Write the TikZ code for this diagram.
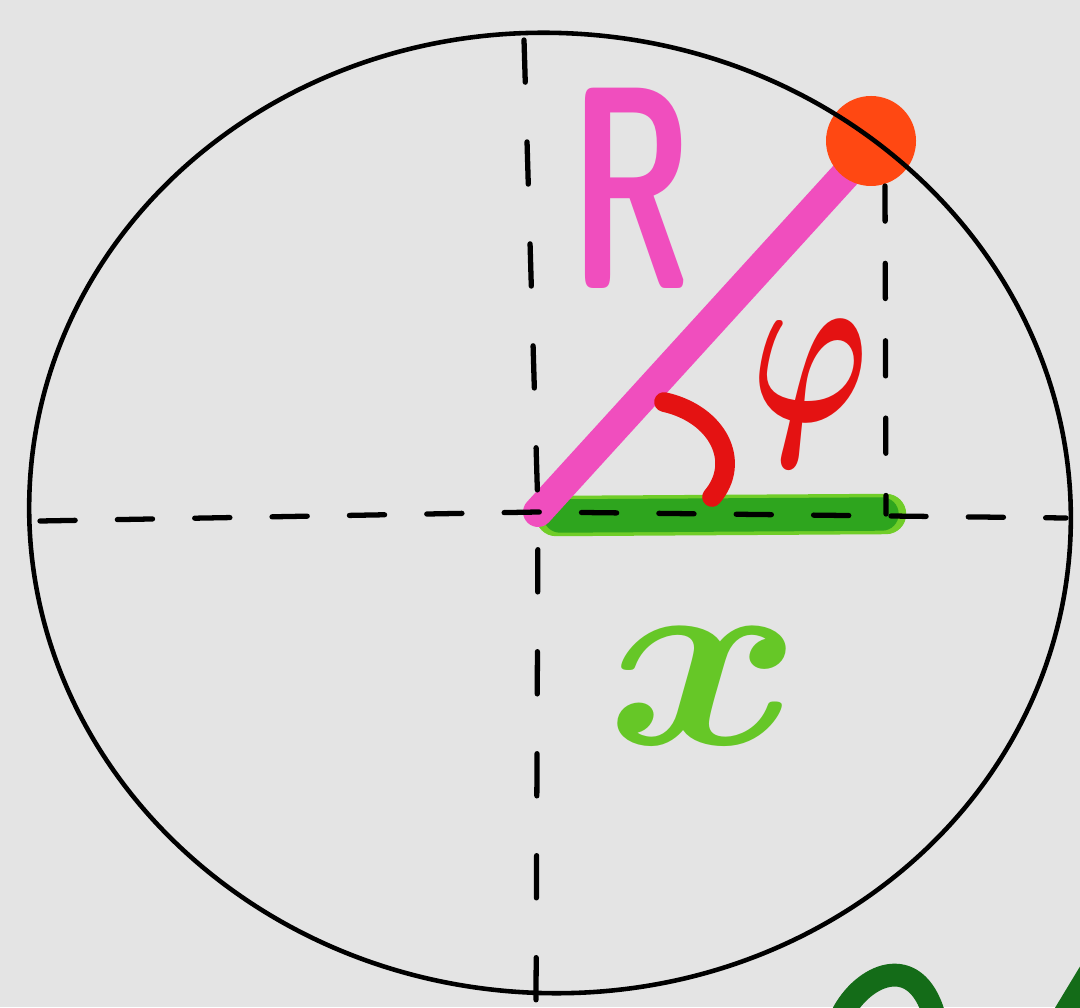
\documentclass[tikz,border=0pt]{standalone}
\usepackage{xcolor}
\usepackage{tikz}
\usetikzlibrary{positioning,calc}
\definecolor{boardgray}{RGB}{228,228,228}
\definecolor{radiuspink}{RGB}{240,78,190}
\definecolor{pointorange}{RGB}{255,72,18}
\definecolor{xgreen}{RGB}{46,165,30}
\definecolor{xlightgreen}{RGB}{112,205,40}
\definecolor{anglered}{RGB}{228,18,18}
\definecolor{inkgreen}{RGB}{20,108,24}

\begin{document}
\begin{tikzpicture}[
    x=0.01cm, y=-0.01cm,
    outline/.style={line width=1.3pt, black},
    axis/.style={line width=1.5pt, black, line cap=round,
                 dash pattern=on 10pt off 12pt},
    axisv/.style={line width=1.5pt, black, line cap=round,
                  dash pattern=on 12pt off 17pt},
    marker/.style={line cap=round, line join=round},
    handlabel/.style={inner sep=0pt, transform shape},
]

% Background and frame
\fill[boardgray] (0,0) rectangle (1080,1007);
\useasboundingbox (0,0) rectangle (1080,1007);

% Points
\coordinate (O) at (538,512);
\coordinate (P) at (871,141);
\coordinate (F) at (886,514);
\coordinate (C) at (550,513);

% Projection x
\draw[marker, xlightgreen, line width=11.5pt] (556,516) -- (F);
\draw[marker, xgreen, line width=9.5pt] (560,516) -- ($(F)+(-4,0)$);

% Radius R
\draw[marker, radiuspink, line width=8.5pt] (O) -- ($(P)+(-4,10)$);

% Angle phi
\draw[marker, anglered, line width=5.6pt]
    (664,402) .. controls (718,414) and (742,462) .. (712,497);

% Point on the circle
\fill[pointorange] (P) circle (45);

% Axes
\draw[axis] (40,521) -- (O) -- (1066,518);
\draw[axisv] (524,40) -- (O) -- (536,1000);
\draw[axis] (885,186) -- (F);

% Circle
\draw[outline, rotate around={-4:(C)}] (C) ellipse [x radius=521, y radius=480];

% Labels
\node[handlabel, font=\Huge\sffamily\bfseries, text=radiuspink,
      xscale=2.0, yscale=3.3] (rlabel) at (631,188) {R};
\node[handlabel, font=\Huge\boldmath, text=anglered,
      xscale=1.8, yscale=2.6] (philabel) at (810,393) {$\varphi$};
\node[handlabel, font=\Huge\boldmath, text=xlightgreen!85!xgreen,
      xscale=3.4, yscale=3.0] (xlabel) at (705,686) {$x$};

% Cut-off writing at the lower edge
\begin{scope}
\clip (0,0) rectangle (1080,1007);
\draw[marker, inkgreen, line width=6.5pt]
    (842,1015) .. controls (862,975) and (915,950) .. (934,1015);
\draw[marker, inkgreen, line width=6.5pt] (1064,1015) -- (1090,972);
\end{scope}

\end{tikzpicture}
\end{document}
